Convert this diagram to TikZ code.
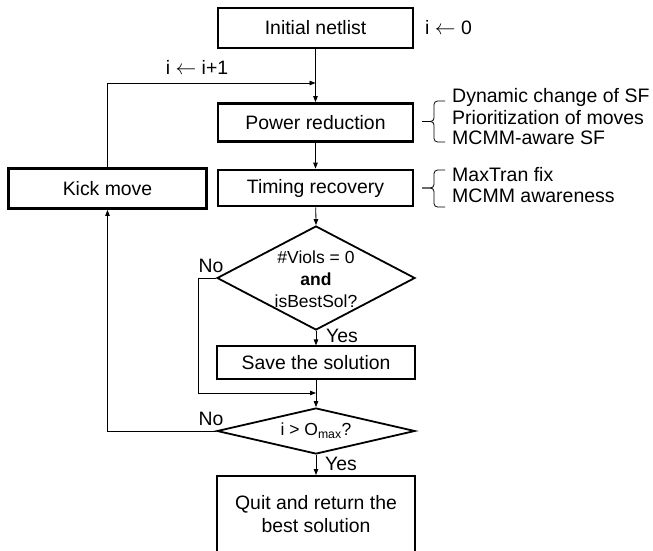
\documentclass[tikz,border=0pt]{standalone}
\usepackage{fontspec}
\setmainfont{Liberation Sans}
\usetikzlibrary{arrows.meta,shapes.geometric}
\begin{document}
\begin{tikzpicture}[x=1pt,y=-1pt,
 box/.style={draw, rectangle, line width=1.3pt, minimum width=195pt, inner sep=0pt, font=\fontsize{19.4}{23}\selectfont, align=center},
 tbox/.style={box, line width=2.8pt},
 dia/.style={draw, diamond, line width=1.8pt, inner sep=0pt, minimum width=198pt},
 conn/.style={line width=0.8pt, -{Triangle[length=6pt,width=4.5pt]}},
 lbl/.style={font=\fontsize{19.4}{23}\selectfont, inner sep=0pt},
 dtxt/.style={font=\fontsize{17.5}{22}\selectfont, inner sep=0pt, align=center},
 ann/.style={font=\fontsize{19.5}{21}\selectfont, anchor=west, inner sep=0pt},
 brc/.style={line width=0.8pt, rounded corners=3.5pt}
]
\clip (0,0) rectangle (653,551);
\node[box, minimum height=40pt] (init) at (315.5,28) {Initial netlist};
\node[tbox, minimum height=38pt] (power) at (315.5,122.5) {Power reduction};
\node[tbox, minimum height=36pt] (timing) at (315.5,188) {Timing recovery};
\node[tbox, minimum width=198pt, minimum height=40pt] (kick) at (107.5,188.5) {Kick move};
\node[dia, minimum height=104pt] (d1) at (316,278) {};
\node[dtxt] (d1t) at (316,279) {\#Viols = 0\\\textbf{and}\\isBestSol?};
\node[box, minimum width=198pt, minimum height=33pt] (save) at (316,362.5) {Save the solution};
\node[dia, minimum height=46pt] (d2) at (316,431) {};
\node[dtxt] (d2t) at (316,431) {i > O\textsubscript{max}?};
\node[box, minimum width=198pt, minimum height=77pt, line width=2pt] (quit) at (316,514.5) {Quit and return the\\best solution};

\coordinate (m1) at (315.5,83);
\coordinate (m2) at (316,393);
\coordinate (n1) at (198,278);

\draw[conn] (init) -- (power);
\draw[conn] (kick.north) |- (m1);
\draw[conn] (power) -- (timing);
\draw[conn] (timing) -- (d1.north);
\draw[conn] (d1.south) -- (save.north);
\draw[conn] (d1.west) -- (n1) |- (m2);
\draw[conn] (save.south) -- (d2.north);
\draw[conn] (d2.west) -| (kick.south);
\draw[conn] (d2.south) -- (quit.north);

\node[lbl, anchor=west] (i0) at (425,28) {i $\leftarrow$ 0};
\node[lbl] (inc) at (197,67) {i $\leftarrow$ i+1};
\node[lbl] (no1) at (211,266) {No};
\node[lbl] (yes1) at (342,336) {Yes};
\node[lbl] (no2) at (211,419) {No};
\node[lbl] (yes2) at (341,464) {Yes};

\node[ann] (a1) at (452,97) {Dynamic change of SF};
\node[ann] (a2) at (452,117.5) {Prioritization of moves};
\node[ann] (a3) at (452,138) {MCMM-aware SF};
\node[ann] (a4) at (452,175) {MaxTran fix};
\node[ann] (a5) at (452,196) {MCMM awareness};

\coordinate (b1t) at (445,101);
\coordinate (b1m) at (422,121.5);
\coordinate (b1b) at (445,142);
\coordinate (b2t) at (445,170);
\coordinate (b2m) at (422,188);
\coordinate (b2b) at (445,207);
\draw[brc] (b1t) -| ([xshift=12pt,yshift=0pt]b1m) -- (b1m);
\draw[brc] (b1m) -- ([xshift=12pt]b1m) |- (b1b);
\draw[brc] (b2t) -| ([xshift=12pt]b2m) -- (b2m);
\draw[brc] (b2m) -- ([xshift=12pt]b2m) |- (b2b);
\end{tikzpicture}
\end{document}
